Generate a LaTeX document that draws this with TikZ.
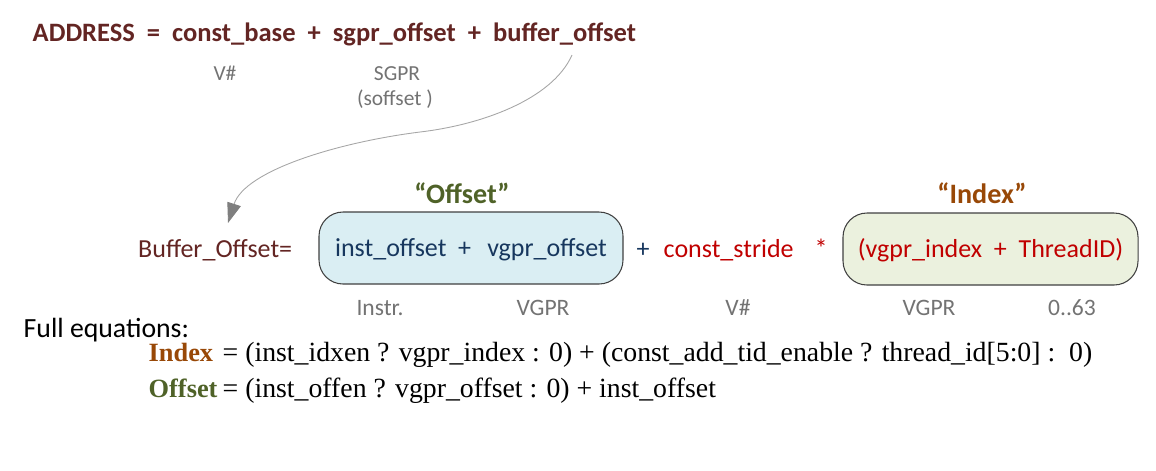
\documentclass[tikz,border=0pt]{standalone}
\usepackage{fontspec}
\setmainfont{Carlito}
\newfontfamily\eqfont{Liberation Serif}
\usetikzlibrary{arrows.meta}
\definecolor{addrred}{HTML}{632523}
\definecolor{offnavy}{HTML}{17375E}
\definecolor{idxred}{HTML}{C00000}
\definecolor{offgreen}{HTML}{4F6228}
\definecolor{idxbrown}{HTML}{984807}
\definecolor{offblue}{HTML}{DAEEF3}
\definecolor{idxgreen}{HTML}{EBF1DE}
\definecolor{boxgray}{HTML}{404040}
\definecolor{lblgray}{HTML}{737373}
\definecolor{linkgray}{HTML}{A6A6A6}
\definecolor{tipgray}{HTML}{7F7F7F}

\begin{document}
\begin{tikzpicture}[x=1cm,y=-1cm,line join=round]
\tikzstyle{title} = [font=\fontsize{7.55}{9}\selectfont\bfseries,text=addrred,inner sep=0pt,anchor=base west]
\tikzstyle{row} = [font=\fontsize{7.4}{8.8}\selectfont,inner sep=0pt]
\tikzstyle{toplbl} = [font=\fontsize{6.1}{7.3}\selectfont,text=lblgray,inner sep=0pt,anchor=base]
\tikzstyle{lbl} = [font=\fontsize{6.7}{8}\selectfont,text=lblgray,inner sep=0pt,anchor=base]
\tikzstyle{head} = [font=\fontsize{8}{9.6}\selectfont\bfseries,inner sep=0pt,anchor=base]
\tikzstyle{box} = [row,draw=boxgray,line width=.3pt,rounded corners=.24cm,minimum height=.72cm,text height=5.6pt,text depth=.6pt]
\tikzstyle{eq} = [font=\eqfont\fontsize{7.9}{9.5}\selectfont,inner sep=0pt,anchor=base west]
\tikzstyle{eqname} = [eq,font=\eqfont\fontsize{7.5}{9}\selectfont\bfseries]
\tikzstyle{link} = [draw=linkgray,line width=.25pt,-{Triangle[length=2mm,width=1.4mm,color=tipgray]}]
\useasboundingbox (0,0) rectangle (11.56,4.70);
\node[title] (addr) at (.32,.41) {ADDRESS\ \ =\ \ const\_base\ \ +\ \ sgpr\_offset\ \ +\ \ buffer\_offset};
\node[toplbl] (vbase) at (2.25,.80) {V\#};
\node[toplbl] (sgpr) at (3.97,.80) {SGPR};
\node[toplbl] (soff) at (3.95,1.05) {(soffset )};
\coordinate (from) at (5.72,.55);
\coordinate (to) at (2.28,2.23);
\draw[link] (from) .. controls (5.52,1.00) and (4.80,1.25) .. (4.20,1.32) .. controls (3.40,1.42) and (2.45,1.70) .. (to);
\node[row,text=addrred,anchor=base west] (buf) at (1.375,2.57) {Buffer\_Offset=};
\node[box,fill=offblue,text=offnavy,minimum width=3.04cm] (offs) at (4.71,2.48) {inst\_offset\ \ +\ \ \,vgpr\_offset};
\node[row,text=offnavy,anchor=base] (plus) at (6.43,2.57) {+};
\node[row,text=idxred,anchor=base west] (stride) at (6.63,2.57) {const\_stride};
\node[row,text=idxred,anchor=base] (times) at (8.21,2.57) {*};
\node[box,fill=idxgreen,text=idxred,minimum width=2.95cm] (idx) at (9.905,2.49) {(vgpr\_index\ \ +\ \ ThreadID)};
\node[head,text=offgreen] (offhead) at (4.62,2.03) {“Offset”};
\node[head,text=idxbrown] (idxhead) at (9.82,2.03) {“Index”};
\node[lbl] (instr) at (3.80,3.15) {Instr.};
\node[lbl] (vgpra) at (5.43,3.15) {VGPR};
\node[lbl] (vstride) at (7.38,3.15) {V\#};
\node[lbl] (vgprb) at (9.29,3.15) {VGPR};
\node[lbl] (tid) at (10.72,3.15) {0..63};
\node[row,font=\fontsize{7.9}{9.5}\selectfont,anchor=base west] (full) at (.23,3.37) {Full equations:};
\node[eqname,text=idxbrown] (idxname) at (1.48,3.61) {Index};
\node[eq] (idxeq) at (2.22,3.61) {= (inst\_idxen ? vgpr\_index : 0) + (const\_add\_tid\_enable ? thread\_id[5:0] :\ \ 0)};
\node[eqname,text=offgreen] (offname) at (1.48,3.97) {Offset};
\node[eq] (offeq) at (2.22,3.97) {= (inst\_offen ? vgpr\_offset : 0) + inst\_offset};
\end{tikzpicture}
\end{document}
